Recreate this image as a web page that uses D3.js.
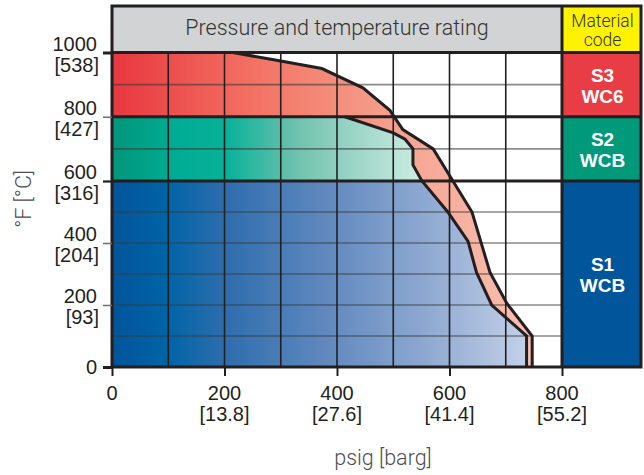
<!DOCTYPE html>
<html><head><meta charset="utf-8">
<script src="https://cdn.jsdelivr.net/npm/d3@7"></script>
<style>
html,body{margin:0;padding:0;background:#fff;}
svg{display:block;}
</style></head>
<body>
<script>
// ---- data ----
const xTicks = [0, 200, 400, 600, 800];
const xTickBar = ["", "[13.8]", "[27.6]", "[41.4]", "[55.2]"];
const yTicks = [0, 200, 400, 600, 800, 1000];
const yTickC = ["", "[93]", "[204]", "[316]", "[427]", "[538]"];
const xGrid = [100, 200, 300, 400, 500, 600, 700];
const yGrid = [100, 200, 300, 400, 500, 700, 900];
// rating curves (psig, °F)
const s3Curve = [[215,1000],[295,975],[373,950],[446,890],[494,820],[517,760],[571,700],[640,500],[672,305],[702,205],[747,100],[747,0]];
const s2Curve = [[414,800],[500,750],[521,730],[535,700],[535,650],[551,600]];
const s1Curve = [[551,600],[597,500],[633,405],[648,305],[675,200],[737,100],[737,0]];
const matCodes = ["S3", "S2", "S1"];
const matNames = ["WC6", "WCB", "WCB"];
const matLo = [800, 600, 0];
const matHi = [1000, 800, 600];
const matColors = ["#e93d46", "#009a7b", "#00559b"];

const W = 644, H = 475;
const x = d3.scaleLinear().domain([0, 800]).range([112, 562]);
const y = d3.scaleLinear().domain([0, 600, 1000]).range([367, 181, 52.5]);
const headerTop = 6, rightEdge = 641;
const ink = "#231f20";

const svg = d3.select("body").append("svg").attr("width", W).attr("height", H);
const defs = svg.append("defs");
function grad(id, stops) {
  const g = defs.append("linearGradient").attr("id", id)
    .attr("gradientUnits", "userSpaceOnUse")
    .attr("x1", x(0)).attr("x2", x(stops[stops.length-1][0])).attr("y1", 0).attr("y2", 0);
  const max = stops[stops.length-1][0];
  stops.forEach(s => g.append("stop").attr("offset", s[0]/max).attr("stop-color", s[1]));
}
grad("gRed", [[0,"#e8373f"],[245,"#f27062"],[387,"#f48c7a"],[548,"#f6a896"],[747,"#f9c0b1"]]);
grad("gGreen", [[0,"#00967a"],[110,"#00ac93"],[200,"#06b198"],[330,"#70c2ae"],[535,"#c8e9df"]]);
grad("gBlue", [[0,"#02549a"],[100,"#0064a7"],[200,"#2e6dad"],[370,"#5d87bd"],[550,"#8ca7d0"],[737,"#c3d0e8"]]);

const line = d3.line().x(d => x(d[0])).y(d => y(d[1]));

// header
svg.append("rect").attr("x", x(0)).attr("y", headerTop).attr("width", x(800)-x(0)).attr("height", y(1000)-headerTop).attr("fill", "#d1d3d4");
svg.append("rect").attr("x", x(800)).attr("y", headerTop).attr("width", rightEdge-x(800)).attr("height", y(1000)-headerTop).attr("fill", "#fff200");

// filled rating regions
svg.append("path").attr("d", line([[0,0],[0,1000], ...s3Curve]) + "Z").attr("fill", "url(#gRed)");
svg.append("path").attr("d", line([[0,600],[0,800], ...s2Curve]) + "Z").attr("fill", "url(#gGreen)");
svg.append("path").attr("d", line([[0,0],[0,600], ...s1Curve]) + "Z").attr("fill", "url(#gBlue)");

// grid
svg.append("g").selectAll("line").data(yGrid).join("line")
  .attr("x1", x(0)).attr("x2", x(800)).attr("y1", d => y(d)).attr("y2", d => y(d))
  .attr("stroke", "#3a3a3a").attr("stroke-opacity", 0.6).attr("stroke-width", 1.6);
svg.append("g").selectAll("line").data(xGrid).join("line")
  .attr("x1", d => x(d)).attr("x2", d => x(d)).attr("y1", y(1000)).attr("y2", y(0))
  .attr("stroke", ink).attr("stroke-width", 1.6);

// material legend column
const leg = svg.append("g");
matCodes.forEach((c, i) => {
  leg.append("rect").attr("x", x(800)).attr("y", y(matHi[i])).attr("width", rightEdge - x(800))
    .attr("height", y(matLo[i]) - y(matHi[i])).attr("fill", matColors[i]);
  const cy = (y(matHi[i]) + y(matLo[i])) / 2;
  const t = leg.append("text").attr("x", (x(800)+rightEdge)/2 + 1).attr("text-anchor", "middle")
    .attr("font-family", "Liberation Sans, Arial, sans-serif").attr("font-weight", "bold")
    .attr("font-size", 19).attr("fill", "#fff");
  t.append("tspan").attr("x", (x(800)+rightEdge)/2 + 1).attr("y", cy - 3).text(c);
  t.append("tspan").attr("x", (x(800)+rightEdge)/2 + 1).attr("y", cy + 18).text(matNames[i]);
});

// curve outlines
svg.append("path").attr("d", line(s3Curve)).attr("fill", "none").attr("stroke", ink).attr("stroke-width", 3).attr("stroke-linejoin", "miter");
svg.append("path").attr("d", line([...s2Curve, ...s1Curve.slice(1)])).attr("fill", "none").attr("stroke", ink).attr("stroke-width", 3);

// band separators
svg.append("g").selectAll("line").data([600, 800]).join("line")
  .attr("x1", x(0)).attr("x2", rightEdge).attr("y1", d => y(d)).attr("y2", d => y(d))
  .attr("stroke", ink).attr("stroke-width", 3);
svg.append("line").attr("x1", x(0)).attr("x2", rightEdge).attr("y1", y(1000)).attr("y2", y(1000)).attr("stroke", ink).attr("stroke-width", 3);
// frame
svg.append("rect").attr("x", x(0)).attr("y", headerTop).attr("width", rightEdge - x(0)).attr("height", y(0) - headerTop)
  .attr("fill", "none").attr("stroke", ink).attr("stroke-width", 3);
svg.append("line").attr("x1", x(800)).attr("x2", x(800)).attr("y1", headerTop).attr("y2", y(0)).attr("stroke", ink).attr("stroke-width", 3);

// axes (tick marks)
const xAxis = svg.append("g").attr("transform", `translate(0,${y(0)})`)
  .call(d3.axisBottom(x).tickValues(xTicks).tickSize(9).tickFormat(""));
xAxis.select(".domain").remove();
xAxis.selectAll(".tick line").attr("stroke", ink).attr("stroke-width", 2);
const yAxis = svg.append("g").attr("transform", `translate(${x(0)},0)`)
  .call(d3.axisLeft(y).tickValues(yTicks).tickSize(9).tickFormat(""));
yAxis.select(".domain").remove();
yAxis.selectAll(".tick line")
  .attr("stroke", d => (d === 0 || d === 600 || d === 1000) ? ink : "#6d6e70")
  .attr("stroke-width", d => (d === 0 || d === 1000) ? 3 : (d === 600 ? 2.2 : 1.5));

const labFont = "Liberation Sans, Arial, sans-serif";
// x labels
const xl = svg.append("g").attr("font-family", labFont).attr("font-size", 20).attr("fill", ink).attr("text-anchor", "middle");
xTicks.forEach((v, i) => {
  xl.append("text").attr("x", x(v)).attr("y", 400).text(v);
  if (xTickBar[i]) xl.append("text").attr("x", x(v)).attr("y", 421).text(xTickBar[i]);
});
// y labels
const yl = svg.append("g").attr("font-family", labFont).attr("font-size", 20).attr("fill", ink).attr("text-anchor", "end");
yTicks.forEach((v, i) => {
  if (yTickC[i]) {
    yl.append("text").attr("x", 97).attr("y", y(v) - 2).text(v);
    yl.append("text").attr("x", 99).attr("y", y(v) + 19).text(yTickC[i]);
  } else {
    yl.append("text").attr("x", 97).attr("y", y(v) + 7).text(v);
  }
});

// titles
const tFont = "Roboto, 'Open Sans', sans-serif";
svg.append("text").attr("x", (x(0)+x(800))/2).attr("y", 35).attr("text-anchor", "middle")
  .attr("font-family", tFont).attr("font-weight", 300).attr("font-size", 21.5).attr("fill", "#333")
  .text("Pressure and temperature rating");
const mc = svg.append("text").attr("text-anchor", "middle").attr("font-family", tFont).attr("font-weight", 300)
  .attr("font-size", 17.5).attr("fill", "#333");
mc.append("tspan").attr("x", (x(800)+rightEdge)/2 + 1).attr("y", 27).text("Material");
mc.append("tspan").attr("x", (x(800)+rightEdge)/2 + 1).attr("y", 46).text("code");
svg.append("text").attr("x", 383).attr("y", 465).attr("text-anchor", "middle")
  .attr("font-family", tFont).attr("font-weight", 300).attr("font-size", 21.5).attr("fill", "#4d4e50")
  .text("psig [barg]");
svg.append("text").attr("transform", "translate(31,199) rotate(-90)").attr("text-anchor", "middle")
  .attr("font-family", tFont).attr("font-weight", 300).attr("font-size", 21.5).attr("fill", "#4d4e50")
  .text("°F [°C]");
</script>
</body></html>
